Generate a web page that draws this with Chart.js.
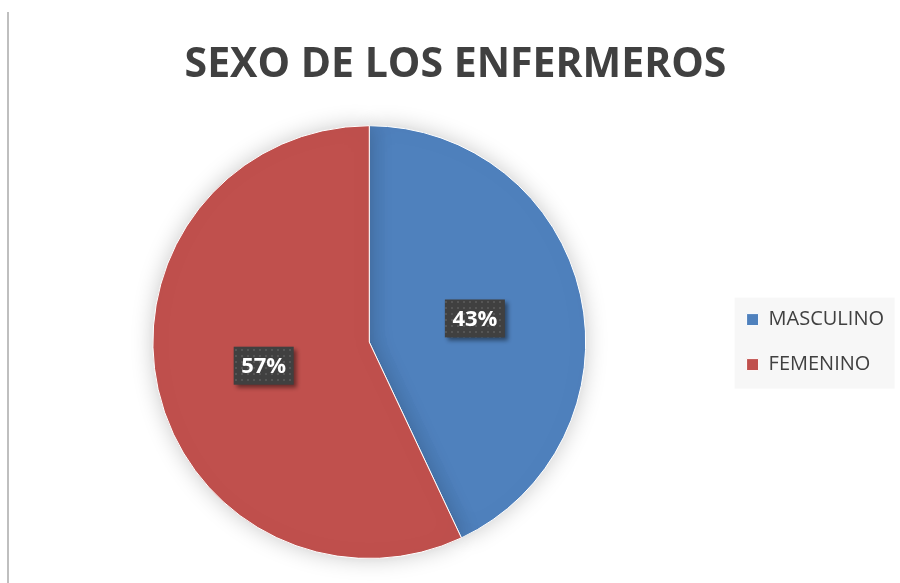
<!DOCTYPE html>
<html>
<head>
<meta charset="utf-8">
<script src="https://cdn.jsdelivr.net/npm/chart.js@4"></script>
<style>
  body { margin: 0; background: #fff; }
  #wrap { position: relative; width: 900px; height: 583px; }
  #frame { position: absolute; left: 7px; top: 12px; width: 2px; height: 571px; background: #bfbfbf; }
</style>
</head>
<body>
<div id="wrap">
  <div id="frame"></div>
  <canvas id="sexChart" width="900" height="583"></canvas>
</div>
<script>
// Data
let categories = [ 'MASCULINO', 'FEMENINO' ];
let values = [ 43, 57 ];
let sliceColors = [ '#4F81BD', '#C0504D' ];
let chartTitle = 'SEXO DE LOS ENFERMEROS';

// dotted pattern for the label boxes
function makePattern ( ctx )
{
    let p = document.createElement( 'canvas' );
    p.width = 6; p.height = 6;
    let pc = p.getContext( '2d' );
    pc.fillStyle = '#404040';
    pc.fillRect( 0, 0, 6, 6 );
    pc.fillStyle = '#555555';
    pc.fillRect( 1, 1, 2, 2 );
    return ctx.createPattern( p, 'repeat' );
}

// gray panel behind the legend
let legendPanel = {
    id: 'legendPanel',
    beforeDraw ( chart )
    {
        let lg = chart.legend;
        if ( !lg || !lg.legendHitBoxes.length ) return;
        let boxes = lg.legendHitBoxes;
        let top = boxes[ 0 ].top - 12;
        let last = boxes[ boxes.length - 1 ];
        let bottom = last.top + last.height + 14;
        let ctx = chart.ctx;
        ctx.save();
        ctx.fillStyle = '#f7f7f7';
        ctx.fillRect( boxes[ 0 ].left - 12, top, 160, bottom - top );
        ctx.restore();
    }
};

// soft glow under the pie
let pieGlow = {
    id: 'pieGlow',
    beforeDatasetsDraw ( chart )
    {
        let ctx = chart.ctx;
        ctx.save();
        ctx.shadowColor = 'rgba(0,0,0,0.22)';
        ctx.shadowBlur = 22;
    },
    afterDatasetsDraw ( chart )
    {
        chart.ctx.restore();
    }
};

// percentage labels in dark boxes
let percentLabels = {
    id: 'percentLabels',
    afterDatasetsDraw ( chart )
    {
        let ctx = chart.ctx;
        let meta = chart.getDatasetMeta( 0 );
        let total = values.reduce( ( a, b ) => a + b, 0 );
        let pattern = makePattern( ctx );
        meta.data.forEach( function ( arc, i )
        {
            let pos = arc.getCenterPoint();
            let text = Math.round( values[ i ] / total * 100 ) + '%';
            let w = 60, h = 38;
            ctx.save();
            ctx.shadowColor = 'rgba(0,0,0,0.45)';
            ctx.shadowBlur = 4;
            ctx.shadowOffsetX = 3;
            ctx.shadowOffsetY = 3;
            ctx.fillStyle = pattern;
            ctx.fillRect( pos.x - w / 2, pos.y - h / 2, w, h );
            ctx.restore();
            ctx.save();
            ctx.fillStyle = '#ffffff';
            ctx.font = 'bold 22px "Open Sans"';
            ctx.textAlign = 'center';
            ctx.textBaseline = 'middle';
            ctx.fillText( text, pos.x, pos.y + 1 );
            ctx.restore();
        } );
    }
};

let ctx = document.getElementById( 'sexChart' ).getContext( '2d' );
let chart = new Chart( ctx, {
    type: 'pie',
    data: {
        labels: categories,
        datasets: [ {
            data: values,
            backgroundColor: sliceColors,
            borderColor: '#ffffff',
            borderWidth: 1
        } ]
    },
    options: {
        responsive: false,
        animation: false,
        layout: {
            padding: { left: 17, right: 6, top: 0, bottom: 24 }
        },
        plugins: {
            title: {
                display: true,
                text: chartTitle,
                color: '#404040',
                font: { family: 'Open Sans', size: 41, weight: 'bold' },
                padding: { top: 41, bottom: 35 }
            },
            legend: {
                position: 'right',
                fullSize: false,
                labels: {
                    color: '#404040',
                    font: { family: 'Open Sans', size: 20 },
                    boxWidth: 12,
                    boxHeight: 12,
                    padding: 25
                }
            },
            tooltip: { enabled: false }
        }
    },
    plugins: [ legendPanel, pieGlow, percentLabels ]
} );
</script>
</body>
</html>
